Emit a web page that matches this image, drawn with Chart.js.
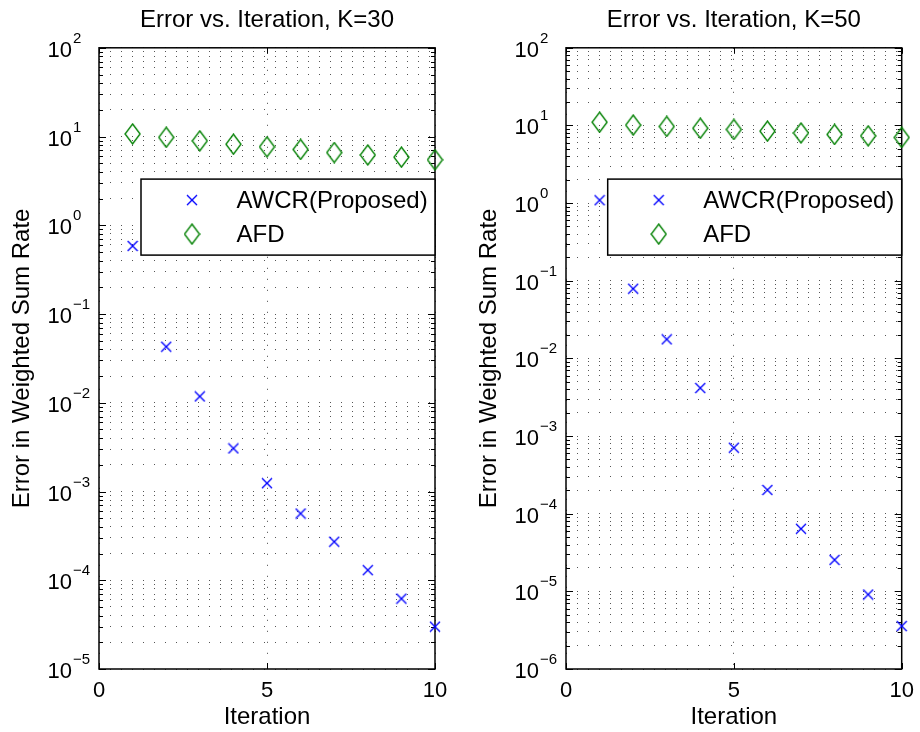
<!DOCTYPE html>
<html><head><meta charset="utf-8">
<script src="https://cdn.jsdelivr.net/npm/chart.js@4.4.1/dist/chart.umd.min.js"></script>
<style>
html,body{margin:0;padding:0;background:#fff;}
#wrap{position:relative;width:920px;height:732px;background:#fff;}
canvas{position:absolute;top:0;}
#c1{left:0px} #c2{left:460px}
</style></head><body>
<div id="wrap"><canvas id="c1" width="460" height="732"></canvas><canvas id="c2" width="460" height="732"></canvas></div>
<script>
// ---- data ----
const iterations = [1, 2, 3, 4, 5, 6, 7, 8, 9, 10];
const awcrK30 = [0.585, 0.0428, 0.0118, 0.00306, 0.00124, 5.65e-4, 2.72e-4, 1.30e-4, 6.2e-5, 3.0e-5];
const afdK30  = [10.7, 9.8, 8.95, 8.2, 7.66, 7.15, 6.6, 6.2, 5.86, 5.47];
const awcrK50 = [1.09, 0.079, 0.0176, 0.00415, 7.08e-4, 2.02e-4, 6.4e-5, 2.54e-5, 9.1e-6, 3.57e-6];
const afdK50  = [11.0, 10.1, 9.7, 9.2, 8.87, 8.45, 8.0, 7.65, 7.35, 7.0];
const xTickLabels = ['0', '5', '10'];
const yTickExpK30 = [2, 1, 0, -1, -2, -3, -4, -5];
const yTickExpK50 = [2, 1, 0, -1, -2, -3, -4, -5, -6];
const seriesNames = ['AWCR(Proposed)', 'AFD'];
const chartTitles = ['Error vs. Iteration, K=30', 'Error vs. Iteration, K=50'];
const xTitle = 'Iteration';
const yTitle = 'Error in Weighted Sum Rate';

const FAMILY = '"Liberation Sans", Arial, Helvetica, sans-serif';

function makeCross() {
  const c = document.createElement('canvas'); c.width = 12; c.height = 12;
  const g = c.getContext('2d');
  g.strokeStyle = '#0000ff'; g.lineWidth = 1.35;
  g.beginPath(); g.moveTo(1, 1); g.lineTo(11, 11); g.moveTo(11, 1); g.lineTo(1, 11); g.stroke();
  return c;
}
function makeDiamond() {
  const c = document.createElement('canvas'); c.width = 17; c.height = 22;
  const g = c.getContext('2d');
  g.strokeStyle = '#008000'; g.lineWidth = 1.35;
  g.beginPath(); g.moveTo(8.5, 1); g.lineTo(16, 11); g.lineTo(8.5, 21); g.lineTo(1, 11); g.closePath(); g.stroke();
  return c;
}
const crossImg = makeCross();
const diamondImg = makeDiamond();

function logTickValues(exps) {
  const maxE = Math.max(...exps), minE = Math.min(...exps);
  const out = [];
  for (let e = minE; e < maxE; e++) {
    for (let m = 1; m <= 9; m++) out.push({ value: parseFloat((m * Math.pow(10, e)).toPrecision(6)), major: m === 1 });
  }
  out.push({ value: Math.pow(10, maxE), major: true });
  return out;
}

const axesPlugin = {
  id: 'matlabAxes',
  beforeDatasetsDraw(chart, args, opts) {
    const { ctx, chartArea: a } = chart;
    const x = chart.scales.x, y = chart.scales.y;
    ctx.save();
    ctx.strokeStyle = '#000'; ctx.lineWidth = 1;
    ctx.beginPath();
    y.ticks.forEach(t => {
      const py = Math.round(y.getPixelForValue(t.value)) + 0.5;
      const len = t.major ? 7 : 4;
      ctx.moveTo(a.left, py); ctx.lineTo(a.left + len, py);
      ctx.moveTo(a.right, py); ctx.lineTo(a.right - len, py);
    });
    x.ticks.forEach(t => {
      const px = Math.round(x.getPixelForValue(t.value)) + 0.5;
      ctx.moveTo(px, a.bottom); ctx.lineTo(px, a.bottom - 6);
      ctx.moveTo(px, a.top); ctx.lineTo(px, a.top + 6);
    });
    ctx.stroke();
    ctx.lineWidth = 1.5;
    ctx.strokeRect(a.left, a.top, a.right - a.left, a.bottom - a.top);
    ctx.fillStyle = '#000';
    ctx.font = '22px ' + FAMILY;
    ctx.textAlign = 'center'; ctx.textBaseline = 'middle';
    opts.xLabels.forEach(l => ctx.fillText(l, x.getPixelForValue(Number(l)), a.bottom + 22));
    opts.exps.forEach(e => {
      const py = y.getPixelForValue(Math.pow(10, e));
      ctx.font = '22px ' + FAMILY; ctx.textAlign = 'right'; ctx.textBaseline = 'alphabetic';
      ctx.fillText('10', a.left - 27, py + 9);
      ctx.font = '15px ' + FAMILY; ctx.textAlign = 'left';
      ctx.fillText(e < 0 ? '\u2212' + (-e) : String(e), a.left - 26, py - 5);
    });
    ctx.restore();
  },
  afterDatasetsDraw(chart) {
    const { ctx, chartArea: a } = chart;
    const bw = 294, bh = 76;
    const bx = a.right - bw, by = a.top + 131.3;
    ctx.save();
    ctx.fillStyle = '#fff'; ctx.fillRect(bx, by, bw, bh);
    ctx.strokeStyle = '#000'; ctx.lineWidth = 1.5; ctx.strokeRect(bx, by, bw, bh);
    chart.data.datasets.forEach((ds, i) => {
      const cy = by + 21 + i * 34;
      const img = ds.pointStyle;
      ctx.drawImage(img, bx + 51 - img.width / 2, cy - img.height / 2);
      ctx.fillStyle = '#000'; ctx.font = '24px ' + FAMILY;
      ctx.textAlign = 'left'; ctx.textBaseline = 'middle';
      ctx.fillText(ds.label, bx + 95.5, cy + 1);
    });
    ctx.restore();
  }
};

function buildChart(id, awcr, afd, exps, title, yWidth, yTitlePad, rightPad) {
  const ticks = logTickValues(exps);
  const gridDash = [1, 10];
  return new Chart(document.getElementById(id), {
    type: 'scatter',
    data: {
      datasets: [
        { label: seriesNames[0], data: iterations.map((v, i) => ({ x: v, y: awcr[i] })), pointStyle: crossImg, pointRadius: 6, showLine: false, clip: false },
        { label: seriesNames[1], data: iterations.map((v, i) => ({ x: v, y: afd[i] })), pointStyle: diamondImg, pointRadius: 8, showLine: false, clip: false }
      ]
    },
    options: {
      responsive: false, animation: false, devicePixelRatio: 1,
      layout: { padding: { left: 0, right: rightPad, top: 0, bottom: 0 } },
      plugins: {
        legend: { display: false },
        tooltip: { enabled: false },
        title: { display: true, text: title, fullSize: false, color: '#000', font: { family: FAMILY, size: 24, weight: 'normal' }, padding: { top: 6, bottom: 13 } },
        matlabAxes: { exps: exps, xLabels: xTickLabels }
      },
      scales: {
        x: {
          type: 'linear', min: 0, max: 10,
          ticks: { stepSize: 5, display: false },
          grid: { color: '#444', lineWidth: 1, drawTicks: false },
          border: { display: false, dash: gridDash },
          title: { display: true, text: xTitle, color: '#000', font: { family: FAMILY, size: 24 }, padding: { top: 0, bottom: 0 } },
          afterFit(s) { s.height = 63; }
        },
        y: {
          type: 'logarithmic', min: Math.pow(10, Math.min(...exps)), max: Math.pow(10, Math.max(...exps)),
          afterBuildTicks(s) { s.ticks = ticks.map(t => ({ value: t.value, major: t.major })); },
          ticks: { display: false },
          grid: { color: '#555', lineWidth: 1, drawTicks: false },
          border: { display: false, dash: gridDash },
          title: { display: true, text: yTitle, color: '#000', font: { family: FAMILY, size: 24 }, padding: { top: yTitlePad, bottom: 0 } },
          afterFit(s) { s.width = yWidth; }
        }
      }
    },
    plugins: [axesPlugin]
  });
}

buildChart('c1', awcrK30, afdK30, yTickExpK30, chartTitles[0], 99, 8, 25);
buildChart('c2', awcrK50, afdK50, yTickExpK50, chartTitles[1], 106, 14.6, 18.3);
</script>
</body></html>
